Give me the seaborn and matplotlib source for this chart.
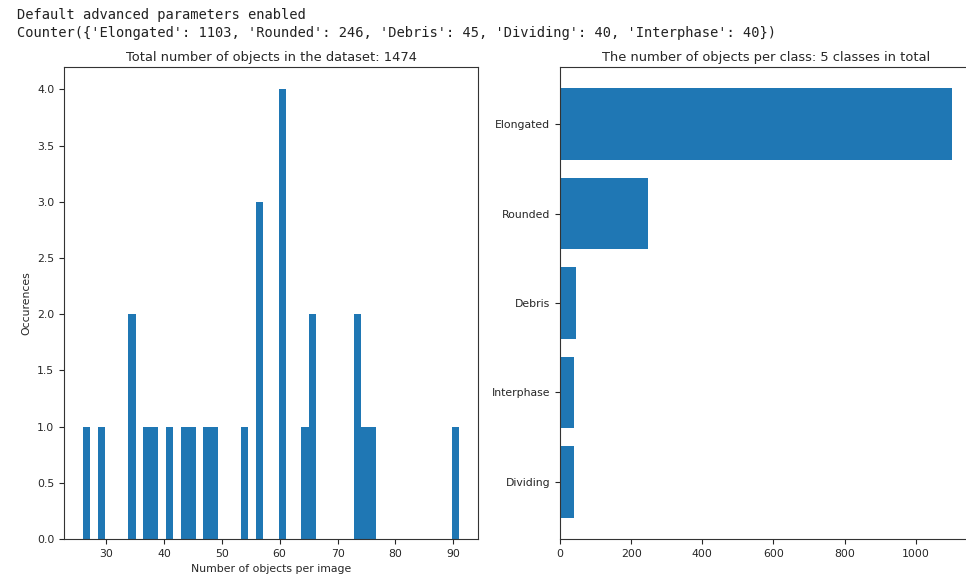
import matplotlib
matplotlib.use("Agg")
import matplotlib.pyplot as plt
import seaborn as sns
import numpy as np

# Objects counted in each image of the dataset
objects_per_image = [26, 29, 35, 35, 37, 38, 41, 43, 45, 47, 49, 54,
                     57, 57, 57, 60, 60, 60, 60, 64, 66, 66, 73, 73,
                     75, 76, 91]

# Objects per class
classes = ["Elongated", "Rounded", "Debris", "Interphase", "Dividing"]
class_counts = [1103, 246, 45, 40, 40]

counter_text = ("Counter({'Elongated': 1103, 'Rounded': 246, 'Debris': 45, "
                "'Dividing': 40, 'Interphase': 40})")

sns.set_style("ticks")
plt.rcParams["font.family"] = ["DejaVu Sans"]
blue = "#1f77b4"

fig = plt.figure(figsize=(9.66, 5.78), dpi=100)
fig.patch.set_facecolor("white")

# Console-style header lines
fig.text(17 / 966, 1 - 15 / 578, "Default advanced parameters enabled",
         family="DejaVu Sans Mono", fontsize=9.9, va="center", ha="left", color="#222222")
fig.text(17 / 966, 1 - 33 / 578, counter_text,
         family="DejaVu Sans Mono", fontsize=9.9, va="center", ha="left", color="#222222")

bottom = (578 - 539) / 578
height = (539 - 67) / 578

# Histogram of objects per image
ax1 = fig.add_axes([64 / 966, bottom, 414 / 966, height])
sns.histplot(x=objects_per_image, bins=50, ax=ax1, color=blue, alpha=1,
             linewidth=0, edgecolor=blue, element="bars")
ax1.set_ylim(0, 4.2)
ax1.set_xlim(22.75, 94.25)
ax1.set_yticks(np.arange(0, 4.01, 0.5))
ax1.set_ylabel("Occurences", fontsize=7.8)
ax1.set_xlabel("Number of objects per image", fontsize=7.8)
ax1.set_title("Total number of objects in the dataset: %d" % sum(objects_per_image),
              fontsize=9.4, pad=4)
ax1.tick_params(labelsize=7.8, length=3.5, width=0.8)

# Horizontal bars of objects per class
ax2 = fig.add_axes([560 / 966, bottom, 412 / 966, height])
sns.barplot(x=class_counts, y=classes, orient="h", ax=ax2, color=blue,
            saturation=1, width=0.8, linewidth=0)
ax2.set_ylim(4.64, -0.64)
ax2.set_xlim(0, 1158.15)
ax2.set_xticks([0, 200, 400, 600, 800, 1000])
ax2.set_title("The number of objects per class: %d classes in total" % len(classes),
              fontsize=9.4, pad=4)
ax2.tick_params(labelsize=7.8, length=3.5, width=0.8)

for ax in (ax1, ax2):
    for s in ax.spines.values():
        s.set_visible(True)
        s.set_color("#333333")
        s.set_linewidth(0.8)
ax2.spines["right"].set_visible(False)

fig.savefig("out.png", dpi=100)
